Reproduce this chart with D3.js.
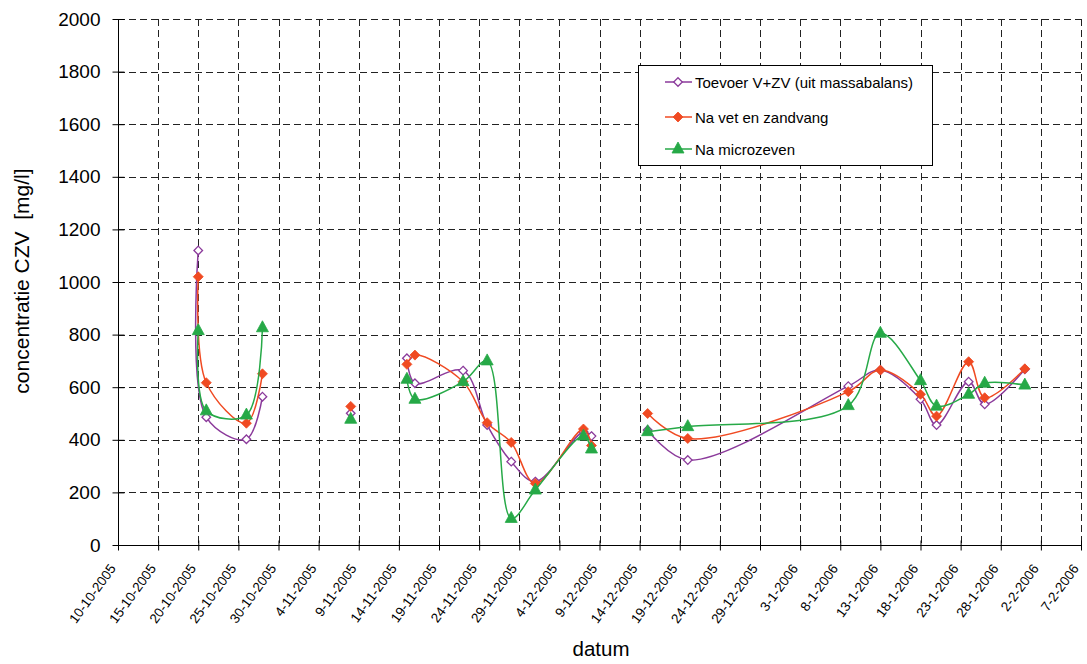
<!DOCTYPE html>
<meta charset="utf-8">
<head>
<style>
  body { margin: 0; background: #fff; font-family: 'Liberation Sans', Arial, sans-serif; }
  svg text { fill: #000; }
</style>
</head>
<body>
<div id="chart"></div>
<script src="https://cdn.jsdelivr.net/npm/d3@7"></script>
<script>

// sample dates (dd-mm-yyyy) and concentrations CZV in mg/l
var dates = ["20-10-2005","21-10-2005","26-10-2005","28-10-2005",
  "8-11-2005",
  "15-11-2005","16-11-2005","22-11-2005","25-11-2005","28-11-2005","1-12-2005","7-12-2005","8-12-2005",
  "15-12-2005","20-12-2005","9-1-2006","13-1-2006","18-1-2006","20-1-2006","24-1-2006","26-1-2006","31-1-2006"];
// rows with the same number are joined by a line (empty rows in the sheet break it)
var block = [1,1,1,1, 2, 3,3,3,3,3,3,3,3, 4,4,4,4,4,4,4,4,4];

var toevoer  = [1120, 486, 402, 564, 501, 710, 615, 663, 456, 317, 241, 431, 414, 437, 323, 604, 665, 554, 456, 621, 535, 668];
var vetZand  = [1020, 617, 463, 651, 527, 687, 722, 621, 465, 390, 234, 441, 378, 500, 405, 583, 665, 573, 490, 697, 560, 670];
var microZev = [815, 510, 494, 826, 478, 630, 554, 621, 700, 101, 209, 414, 365, 431, 450, 530, 805, 625, 528, 573, 615, 608];

var seriesNames = ["Toevoer V+ZV (uit massabalans)", "Na vet en zandvang", "Na microzeven"];
var yTicks = [0, 200, 400, 600, 800, 1000, 1200, 1400, 1600, 1800, 2000];
var xTicks = ["10-10-2005","15-10-2005","20-10-2005","25-10-2005","30-10-2005","4-11-2005","9-11-2005",
  "14-11-2005","19-11-2005","24-11-2005","29-11-2005","4-12-2005","9-12-2005","14-12-2005","19-12-2005",
  "24-12-2005","29-12-2005","3-1-2006","8-1-2006","13-1-2006","18-1-2006","23-1-2006","28-1-2006",
  "2-2-2006","7-2-2006"];

var W = 1087, H = 664;
var pl = 118, pr = 1081, pt = 19, pb = 545;

var parse = d3.timeParse("%d-%m-%Y");
var fmt = d3.timeFormat("%-d-%-m-%Y");
var tickDates = xTicks.map(parse);

var svg = d3.select("#chart").append("svg")
  .attr("width", W).attr("height", H);
svg.append("rect").attr("width", W).attr("height", H).attr("fill", "#fff");

var x = d3.scaleTime()
  .domain([tickDates[0], tickDates[tickDates.length - 1]])
  .range([pl, pr]);
var y = d3.scaleLinear().domain([0, 2000]).range([pb, pt]);

// dashed grid
var grid = svg.append("g").attr("stroke", "#222").attr("stroke-width", 1)
  .attr("stroke-dasharray", "7,4").attr("fill", "none");
grid.selectAll(".gy").data(yTicks.slice(1)).enter().append("line")
  .attr("x1", pl).attr("x2", pr)
  .attr("y1", function(d) { return Math.round(y(d)) + 0.5; })
  .attr("y2", function(d) { return Math.round(y(d)) + 0.5; });
grid.selectAll(".gx").data(tickDates.slice(1)).enter().append("line")
  .attr("y1", pt).attr("y2", pb)
  .attr("x1", function(d) { return Math.round(x(d)) + 0.5; })
  .attr("x2", function(d) { return Math.round(x(d)) + 0.5; });

// y axis
var yAxis = svg.append("g")
  .attr("transform", "translate(" + (pl + 0.5) + ",0)")
  .call(d3.axisLeft(y).tickValues(yTicks).tickSize(6).tickPadding(12).tickFormat(d3.format("d")));
yAxis.select(".domain").attr("d", "M0," + pt + "V" + pb);
yAxis.selectAll(".tick line").attr("x1", -6).attr("x2", 6).attr("stroke", "#000");
yAxis.selectAll(".tick text").style("font-family", "'Liberation Sans', Arial, sans-serif")
  .style("font-size", "19px").attr("x", -18);

// x axis
var xAxis = svg.append("g")
  .attr("transform", "translate(0," + (pb + 0.5) + ")")
  .call(d3.axisBottom(x).tickValues(tickDates).tickSize(5).tickFormat(fmt));
xAxis.select(".domain").attr("d", "M" + pl + ",0H" + pr);
xAxis.selectAll(".tick line").attr("y1", -5).attr("y2", 5).attr("stroke", "#000");
xAxis.selectAll(".tick text")
  .style("font-family", "'Liberation Sans', Arial, sans-serif")
  .style("font-size", "13.5px")
  .attr("text-anchor", "end")
  .attr("dy", null)
  .attr("y", 0)
  .attr("transform", "translate(-2,23) rotate(-54)");

// axis titles
svg.append("text")
  .attr("transform", "translate(29,281) rotate(-90)")
  .attr("text-anchor", "middle")
  .style("font-size", "21px")
  .style("white-space", "pre")
  .text("concentratie CZV  [mg/l]");
svg.append("text")
  .attr("x", 601).attr("y", 656)
  .attr("text-anchor", "middle")
  .style("font-size", "20.5px")
  .text("datum");

var rows = dates.map(function(d, i) {
  return { date: parse(d), block: block[i], v: [toevoer[i], vetZand[i], microZev[i]] };
});

var colors = ["#8b3a9b", "#f04a22", "#26a947"];

function markerPath(k) {
  if (k === 2) return "M0,-7L6,4L-6,4Z";
  var r = k === 0 ? 4.3 : 5;
  return "M0," + (-r) + "L" + r + ",0L0," + r + "L" + (-r) + ",0Z";
}
function markerFill(k) { return k === 0 ? "#fff" : colors[k]; }

var blocks = d3.groups(rows, function(d) { return d.block; });

[0, 1, 2].forEach(function(k) {
  var g = svg.append("g");
  var line = d3.line()
    .x(function(d) { return x(d.date); })
    .y(function(d) { return y(d.v[k]); })
    .curve(d3.curveCatmullRom.alpha(0.5));
  blocks.forEach(function(b) {
    if (b[1].length < 2) return;
    g.append("path").datum(b[1])
      .attr("d", line)
      .attr("fill", "none")
      .attr("stroke", colors[k])
      .attr("stroke-width", 1.5);
  });
  g.selectAll(".m").data(rows).enter().append("path")
    .attr("transform", function(d) { return "translate(" + x(d.date) + "," + y(d.v[k]) + ")"; })
    .attr("d", markerPath(k))
    .attr("fill", markerFill(k))
    .attr("stroke", colors[k])
    .attr("stroke-width", k === 0 ? 1.3 : 0.8);
});

// legend
var lg = svg.append("g");
lg.append("rect").attr("x", 638.5).attr("y", 65.5).attr("width", 294).attr("height", 100)
  .attr("fill", "#fff").attr("stroke", "#000").attr("stroke-width", 1);
var ly = [82, 117, 149];
seriesNames.forEach(function(name, k) {
  lg.append("line").attr("x1", 665).attr("x2", 692).attr("y1", ly[k]).attr("y2", ly[k])
    .attr("stroke", colors[k]).attr("stroke-width", 1.5);
  lg.append("path").attr("transform", "translate(678," + ly[k] + ")")
    .attr("d", markerPath(k)).attr("fill", markerFill(k))
    .attr("stroke", colors[k]).attr("stroke-width", k === 0 ? 1.3 : 0.8);
  lg.append("text").attr("x", 695).attr("y", ly[k] + 5.5)
    .style("font-size", "15px").text(name);
});

</script>
</body>
